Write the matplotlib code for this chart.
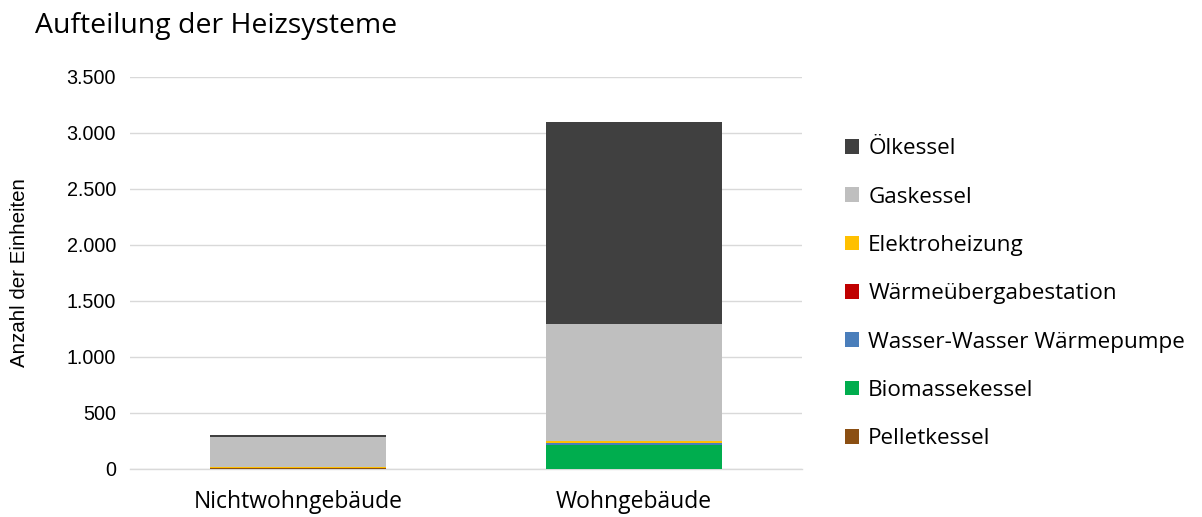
import matplotlib.pyplot as plt
import numpy as np
from matplotlib.ticker import FuncFormatter

plt.rcParams['font.family'] = ['Open Sans', 'DejaVu Sans']
plt.rcParams['text.color'] = 'black'

# Data
categories = ['Nichtwohngebäude', 'Wohngebäude']
series_names = ['Pelletkessel', 'Biomassekessel', 'Wasser-Wasser Wärmepumpe',
                'Wärmeübergabestation', 'Elektroheizung', 'Gaskessel', 'Ölkessel']
pellet = [8, 0]
biomasse = [0, 215]
wasser_wp = [0, 20]
waerme_ueg = [0, 0]
elektro = [10, 12]
gas = [265, 1045]
oel = [17, 1810]
series_values = [pellet, biomasse, wasser_wp, waerme_ueg, elektro, gas, oel]
colors = ['#8B4F13', '#00AD4E', '#4A7EBB', '#C00000', '#FFC000', '#BFBFBF', '#404040']

fig = plt.figure(figsize=(12.02, 5.17), dpi=100)
ax = fig.add_axes([130 / 1202, (517 - 469) / 517, 672 / 1202, 392 / 517])

x = np.arange(len(categories))
bottom = np.zeros(len(categories))
handles = []
for name, vals, col in zip(series_names, series_values, colors):
    b = ax.bar(x, vals, width=0.524, bottom=bottom, color=col, label=name, zorder=3)
    handles.append(b)
    bottom += np.array(vals)

ax.set_xlim(-0.5, 1.5)
ax.set_ylim(0, 3500)
ax.set_yticks(np.arange(0, 3501, 500))
ax.yaxis.set_major_formatter(FuncFormatter(lambda v, p: f'{int(v):,}'.replace(',', '.')))
ax.set_xticks(x)
ax.set_xticklabels(categories, fontsize=16.5)
for lbl in ax.get_yticklabels():
    lbl.set_family('Liberation Sans')
    lbl.set_fontsize(14.2)
ax.grid(axis='y', color='#d9d9d9', linewidth=1, zorder=0)
for s in ['top', 'right', 'left']:
    ax.spines[s].set_visible(False)
ax.spines['bottom'].set_color('#d9d9d9')
ax.spines['bottom'].set_linewidth(1)
ax.tick_params(axis='both', length=0, colors='black')
ax.tick_params(axis='y', pad=10)
ax.tick_params(axis='x', pad=15)
ax.set_ylabel('Anzahl der Einheiten', fontsize=14.8, family='Liberation Sans',
              color='black', va='center')
ax.yaxis.set_label_coords(-110 / 672, 0.5)

fig.text(35 / 1202, 1 - 26 / 517, 'Aufteilung der Heizsysteme', fontsize=20.4,
         color='black', va='center', ha='left')

leg = fig.legend(handles[::-1], series_names[::-1], loc='upper left',
                 bbox_to_anchor=(825 / 1202, 1 - 118 / 517), frameon=False,
                 prop={'family': 'Open Sans', 'size': 16.2},
                 handlelength=0.62, handleheight=0.62,
                 labelspacing=1.215, handletextpad=0.4, labelcolor='black')

fig.savefig('out.png', dpi=100)
